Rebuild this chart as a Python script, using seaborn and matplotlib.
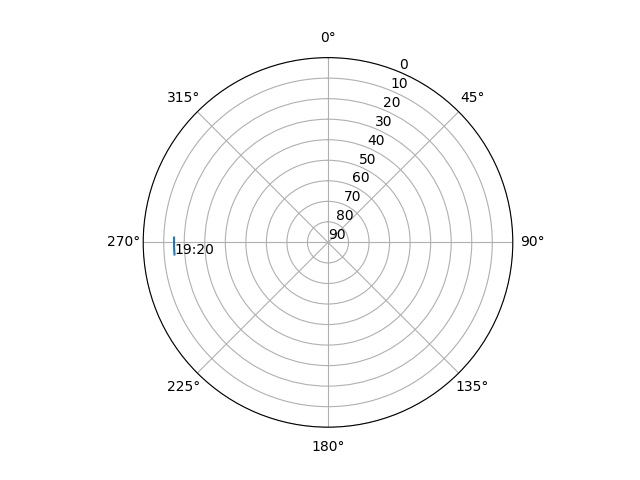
import numpy as np
import pandas as pd
import matplotlib
matplotlib.use("Agg")
import matplotlib.pyplot as plt
import seaborn as sns

azimuth_deg = [265.5, 268.5, 271.8]
elevation_deg = [15.0, 15.0, 15.0]
time_label = "19:20"
r_ticks = list(range(0, 91, 10))

df = pd.DataFrame({"az": np.radians(azimuth_deg), "el": elevation_deg})

fig = plt.figure(figsize=(6.4, 4.8), dpi=100)
ax = fig.add_subplot(111, projection="polar")
ax.set_theta_zero_location("N")
ax.set_theta_direction(-1)
sns.lineplot(data=df, x="az", y="el", ax=ax, sort=False, color="#1f77b4")
ax.set_ylim(90, 0)
ax.set_yticks(r_ticks)
ax.set_xlabel("")
ax.set_ylabel("")
ax.text(df["az"].iloc[0], df["el"].iloc[0], time_label)
fig.savefig("out.png", dpi=100)
